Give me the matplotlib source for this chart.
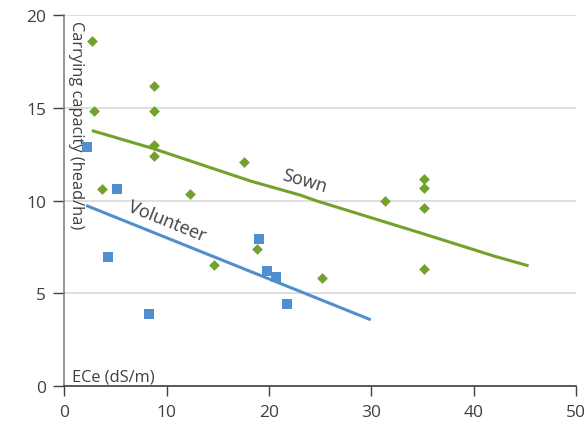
import matplotlib
matplotlib.use('Agg')
import matplotlib.pyplot as plt

plt.rcParams['font.family'] = ['Open Sans', 'DejaVu Sans']

# Sown pasture observations
sown_x = [2.7, 2.9, 3.7, 8.8, 8.8, 8.8, 8.8, 12.3, 17.6, 14.6, 18.8, 25.2, 31.3, 35.1, 35.1, 35.1, 35.1]
sown_y = [18.6, 14.8, 10.6, 16.2, 14.8, 13.0, 12.4, 10.35, 12.1, 6.5, 7.4, 5.8, 10.0, 11.15, 10.7, 9.6, 6.3]

# Volunteer pasture observations
vol_x = [2.2, 5.2, 4.3, 8.3, 19.0, 19.8, 20.7, 21.8]
vol_y = [12.9, 10.6, 6.95, 3.9, 7.9, 6.2, 5.9, 4.4]

# fitted curves
sown_fit_x = [2.85, 8.7, 18.2, 23.0, 24.7, 35.1, 42.0, 45.2]
sown_fit_y = [13.75, 12.8, 11.05, 10.3, 9.97, 8.2, 7.0, 6.5]
vol_fit_x = [2.3, 29.8]
vol_fit_y = [9.7, 3.6]

green = '#72a12c'
blue = '#4f8fd0'
txt = '#404040'

fig = plt.figure(figsize=(5.88, 4.39), dpi=100)
ax = fig.add_axes([0.109, 0.1185, 0.871, 0.845])

ax.yaxis.grid(True, color='#d9d9d9', linewidth=1.2)
ax.set_axisbelow(True)

ax.plot(sown_fit_x, sown_fit_y, color=green, linewidth=2.2)
ax.plot(vol_fit_x, vol_fit_y, color=blue, linewidth=2.2)
ax.scatter(sown_x, sown_y, marker='D', s=30, color=green, zorder=3, linewidths=0)
ax.scatter(vol_x, vol_y, marker='s', s=60, color=blue, zorder=3, linewidths=0)

ax.set_xlim(0, 50)
ax.set_ylim(0, 20)
ax.set_xticks([0, 10, 20, 30, 40, 50])
ax.set_yticks([0, 5, 10, 15, 20])

for s in ['top', 'right']:
    ax.spines[s].set_visible(False)
ax.spines['left'].set_color('#808080')
ax.spines['bottom'].set_color('#404040')
ax.spines['left'].set_linewidth(1.2)
ax.spines['bottom'].set_linewidth(1.2)

ax.tick_params(axis='x', direction='out', length=7, width=1, color='#404040',
               labelsize=12.5, labelcolor=txt, pad=6)
ax.tick_params(axis='y', direction='out', length=8, width=1, color='#404040',
               labelsize=12.5, labelcolor=txt, pad=5)

ax.text(0.35, 19.75, 'Carrying capacity (head/ha)', rotation=-90, va='top', ha='left',
        fontsize=11.8, color=txt)
ax.text(0.8, 0.1, 'ECe (dS/m)', va='bottom', ha='left', fontsize=11.8, color=txt)

ax.text(23.5, 11.1, 'Sown', rotation=-16, ha='center', va='center', fontsize=13, color=txt)
ax.text(10.0, 8.9, 'Volunteer', rotation=-22, ha='center', va='center', fontsize=13, color=txt)

fig.savefig('out.png', dpi=100)
